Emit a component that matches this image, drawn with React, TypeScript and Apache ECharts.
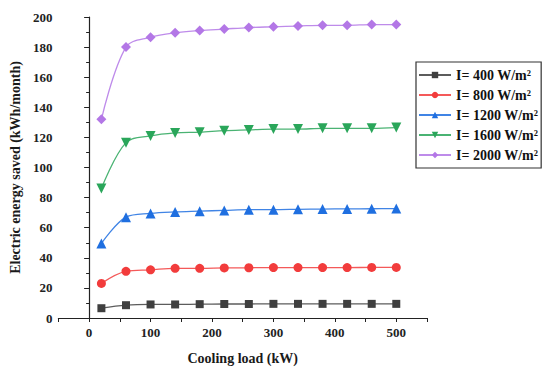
import React, { useEffect, useRef } from "react";
import * as echarts from "echarts";

const loads = [20, 60, 100, 140, 180, 220, 260, 300, 340, 380, 420, 460, 500];
const seriesNames = ["I= 400 W/m²", "I= 800 W/m²", "I= 1200 W/m²", "I= 1600 W/m²", "I= 2000 W/m²"];
const s400 = [6.5, 8.5, 9, 9, 9.2, 9.3, 9.3, 9.4, 9.4, 9.4, 9.4, 9.4, 9.4];
const s800 = [23, 31, 32, 33, 33, 33.3, 33.4, 33.5, 33.5, 33.5, 33.5, 33.6, 33.6];
const s1200 = [49.5, 67, 69.5, 70.5, 71, 71.5, 72, 72, 72.2, 72.4, 72.5, 72.6, 72.7];
const s1600 = [86, 116.5, 121, 123, 123.5, 124.5, 125, 125.5, 125.5, 126, 126, 126, 126.5];
const s2000 = [132, 180, 186.5, 189.5, 191, 192, 193, 193.5, 194, 194.5, 194.5, 195, 195];

const colors = ["#3f3f3f", "#f23c3c", "#1f6fe0", "#2aa65a", "#b377e6"];
const symbols = ["rect", "circle", "triangle", "triangle", "diamond"];
const rotations = [0, 0, 0, 180, 0];
const sizes = [8, 9, 10, 10, 10];

const FONT = "'Liberation Serif', 'Times New Roman', serif";

export default function App() {
  const ref = useRef<HTMLDivElement>(null);
  useEffect(() => {
    if (!ref.current) return;
    const chart = echarts.init(ref.current, undefined, { renderer: "svg" });
    const all = [s400, s800, s1200, s1600, s2000];
    chart.setOption({
      animation: false,
      backgroundColor: "#ffffff",
      grid: { left: 53, right: 123, top: 17, bottom: 54 },
      legend: {
        left: 416,
        top: 62,
        orient: "vertical",
        itemWidth: 32,
        itemHeight: 8,
        itemGap: 6,
        padding: [6, 3, 6, 2],
        borderColor: "#333",
        borderWidth: 1.2,
        data: seriesNames,
        textStyle: {
          fontFamily: FONT,
          fontWeight: "bold",
          fontSize: 14,
          lineHeight: 14,
          color: "#111",
        },
      },
      xAxis: {
        type: "value",
        min: -50,
        max: 550,
        interval: 50,
        name: "Cooling load (kW)",
        nameLocation: "middle",
        nameGap: 33,
        nameTextStyle: { fontFamily: FONT, fontWeight: "bold", fontSize: 14, color: "#1a1a1a" },
        axisLine: { lineStyle: { color: "#222", width: 1.2 } },
        axisTick: { show: true, inside: false, length: 4, lineStyle: { color: "#222" } },
        splitLine: { show: false },
        axisLabel: {
          fontFamily: FONT,
          fontWeight: "bold",
          fontSize: 13,
          color: "#222",
          margin: 8,
          formatter: (v: number) => (v % 100 === 0 && v >= 0 && v <= 500 ? String(v) : ""),
        },
      },
      yAxis: {
        type: "value",
        min: 0,
        max: 200,
        interval: 20,
        name: "Electric energy saved (kWh/month)",
        nameLocation: "middle",
        nameGap: 33,
        nameTextStyle: { fontFamily: FONT, fontWeight: "bold", fontSize: 14, color: "#1a1a1a" },
        axisLine: { show: true, lineStyle: { color: "#222", width: 1.2 } },
        axisTick: { show: true, inside: false, length: 5, lineStyle: { color: "#222" } },
        minorTick: { show: true, splitNumber: 2, length: 3, lineStyle: { color: "#222" } },
        splitLine: { show: false },
        axisLabel: { fontFamily: FONT, fontWeight: "bold", fontSize: 13, color: "#222", margin: 6 },
      },
      series: all.map((vals, i) => ({
        name: seriesNames[i],
        type: "line",
        smooth: 0.35,
        data: loads.map((x, j) => [x, vals[j]]),
        symbol: symbols[i],
        symbolRotate: rotations[i],
        symbolSize: sizes[i],
        showAllSymbol: true,
        itemStyle: { color: colors[i] },
        lineStyle: { color: colors[i], width: 1.3, opacity: 0.85 },
      })),
    });
    return () => chart.dispose();
  }, []);
  return <div ref={ref} style={{ width: 550, height: 372, position: "absolute", left: 0, top: 0 }} />;
}
